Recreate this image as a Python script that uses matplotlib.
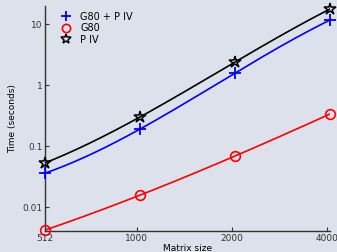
import numpy as np
import matplotlib
matplotlib.use("Agg")
import matplotlib.pyplot as plt
from matplotlib.ticker import FixedLocator, FixedFormatter, NullLocator

sizes = [512, 1024, 2048, 4096]
g80_piv = [0.036, 0.19, 1.57, 11.6]
g80 = [0.0042, 0.0157, 0.0686, 0.335]
piv = [0.053, 0.30, 2.38, 17.6]

xticks = [512, 1000, 2000, 4000]
xticklabels = ["512", "1000", "2000", "4000"]
yticks = [0.01, 0.1, 1, 10]
yticklabels = ["0.01", "0.1", "1", "10"]

bg = "#dce1ec"
fig = plt.figure(figsize=(3.37, 2.52), dpi=100, facecolor=bg)
ax = fig.add_axes([0.134, 0.083, 0.845, 0.893])
ax.set_facecolor(bg)

def smooth(xs, ys):
    lx = np.log(xs)
    ly = np.log(ys)
    c = np.polyfit(lx, ly, len(xs) - 1)
    t = np.linspace(lx[0], lx[-1], 200)
    return np.exp(t), np.exp(np.polyval(c, t))

series = [
    (g80_piv, "blue", "+", "G80 + P IV", dict(markersize=8, markeredgewidth=1.3)),
    (g80, "red", "o", "G80", dict(markersize=7, markerfacecolor="none", markeredgewidth=1.2)),
    (piv, "black", "*", "P IV", dict(markersize=9, markerfacecolor="none", markeredgewidth=1.1)),
]
for ys, col, mk, lab, mkw in series:
    sx, sy = smooth(sizes, ys)
    ax.plot(sx, sy, color=col, lw=1.2, zorder=2)
    ax.plot(sizes, ys, linestyle="none", marker=mk, color=col, markeredgecolor=col,
            label=lab, clip_on=False, zorder=3, **mkw)

ax.set_xscale("log")
ax.set_yscale("log")
ax.set_xlim(512, 4096)
ax.set_ylim(0.00404, 19.7)

ax.xaxis.set_major_locator(FixedLocator(xticks))
ax.xaxis.set_major_formatter(FixedFormatter(xticklabels))
ax.xaxis.set_minor_locator(NullLocator())
ax.yaxis.set_major_locator(FixedLocator(yticks))
ax.yaxis.set_major_formatter(FixedFormatter(yticklabels))
ax.yaxis.set_minor_locator(NullLocator())

for s in ["top", "right"]:
    ax.spines[s].set_visible(False)
for s in ["left", "bottom"]:
    ax.spines[s].set_color("#333333")
    ax.spines[s].set_linewidth(1.0)
ax.tick_params(direction="in", length=3, width=0.8, colors="#333333", labelsize=6.5, pad=2)

ax.set_xlabel("Matrix size", fontsize=6.5, labelpad=1)
ax.set_ylabel("Time (seconds)", fontsize=6.5, labelpad=4)

ax.legend(loc="upper left", frameon=False, fontsize=7, handlelength=1.0,
          handletextpad=1.0, borderaxespad=0.2, labelspacing=0.15,
          markerscale=0.85, bbox_to_anchor=(0.035, 1.0))

fig.savefig("out.png", dpi=100, facecolor=bg)
